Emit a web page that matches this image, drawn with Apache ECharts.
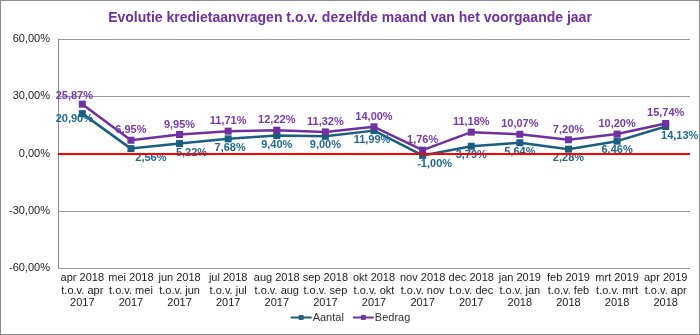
<!DOCTYPE html>
<html><head><meta charset="utf-8">
<script src="https://cdn.jsdelivr.net/npm/echarts@6/dist/echarts.min.js"></script>
<style>html,body{margin:0;padding:0;background:#fff}#c{width:698px;height:333px;border:1px solid #8c8c8c}</style>
</head><body><div id="c"></div>
<script>
const categories = ["apr 2018\nt.o.v. apr\n2017","mei 2018\nt.o.v. mei\n2017","jun 2018\nt.o.v. jun\n2017","jul 2018\nt.o.v. jul\n2017","aug 2018\nt.o.v. aug\n2017","sep 2018\nt.o.v. sep\n2017","okt 2018\nt.o.v. okt\n2017","nov 2018\nt.o.v. nov\n2017","dec 2018\nt.o.v. dec\n2017","jan 2019\nt.o.v. jan\n2018","feb 2019\nt.o.v. feb\n2018","mrt 2019\nt.o.v. mrt\n2018","apr 2019\nt.o.v. apr\n2018"];
const aantal = [20.90, 2.56, 5.22, 7.68, 9.40, 9.00, 11.99, -1.00, 3.79, 5.64, 2.28, 6.46, 14.13];
const bedrag = [25.87, 6.95, 9.95, 11.71, 12.22, 11.32, 14.00, 1.76, 11.18, 10.07, 7.20, 10.20, 15.74];
const yTicks = [-60, -30, 0, 30, 60];
const fmt = v => v.toFixed(2).replace('.', ',') + '%';
const font = 'Liberation Sans, Arial, sans-serif';
// label nudges (layout only)
const aantalOffsets = [[-8,-4],[20,0],[12,0],[2,0],[0,0],[0,0],[-2,0],[12,0],[0,0],[0,0],[0,0],[0,0],[14,0]];
const bedragOffsets = [[-8,2],[0,0],[0,0],[0,0],[0,0],[0,0],[0,0],[0,0],[0,0],[0,0],[0,0],[0,0],[0,0]];
const chart = echarts.init(document.getElementById('c'));
chart.setOption({
  animation: false,
  title: {text: 'Evolutie kredietaanvragen t.o.v. dezelfde maand van het voorgaande jaar', left: 'center', top: 5,
    textStyle: {color: '#7030a0', fontSize: 14, fontWeight: 'bold', fontFamily: font}},
  grid: {left: 57, right: 9, top: 38, bottom: 66},
  legend: {bottom: 6, left: 'center', itemWidth: 21, itemHeight: 6, itemGap: 8,
    textStyle: {fontSize: 11, color: '#333', fontFamily: font, padding: [0, 0, 0, -4]}},
  xAxis: {type: 'category', data: categories, boundaryGap: true,
    axisLine: {lineStyle: {color: '#888'}}, axisTick: {show: false},
    axisLabel: {color: '#222', fontSize: 11, fontFamily: font, lineHeight: 12.5, interval: 0, margin: 4}},
  yAxis: {type: 'value', min: yTicks[0], max: yTicks[yTicks.length-1], interval: 30,
    axisLine: {show: true, lineStyle: {color: '#888'}}, axisTick: {show: false},
    splitLine: {lineStyle: {color: '#999'}},
    axisLabel: {color: '#222', fontSize: 11, fontFamily: font, formatter: v => fmt(v)}},
  series: [
    {name: 'Aantal', type: 'line', color: '#1a5f80', symbol: 'rect', symbolSize: 7,
     data: aantal.map((v, i) => ({value: v, label: {offset: aantalOffsets[i]}})),
     lineStyle: {width: 2.5},
     label: {show: true, position: 'bottom', distance: 0, color: '#1f6a8f', fontSize: 11, fontWeight: 'bold', fontFamily: font, formatter: p => fmt(p.value)},
     markLine: {silent: true, symbol: 'none', label: {show: false}, lineStyle: {color: '#ff0000', width: 2, type: 'solid'}, data: [{yAxis: 0}]}},
    {name: 'Bedrag', type: 'line', color: '#7030a0', symbol: 'rect', symbolSize: 7,
     data: bedrag.map((v, i) => ({value: v, label: {offset: bedragOffsets[i]}})),
     lineStyle: {width: 2.5},
     label: {show: true, position: 'top', distance: 1, color: '#7a3aab', fontSize: 11, fontWeight: 'bold', fontFamily: font, formatter: p => fmt(p.value)}}
  ]
});
</script></body></html>
